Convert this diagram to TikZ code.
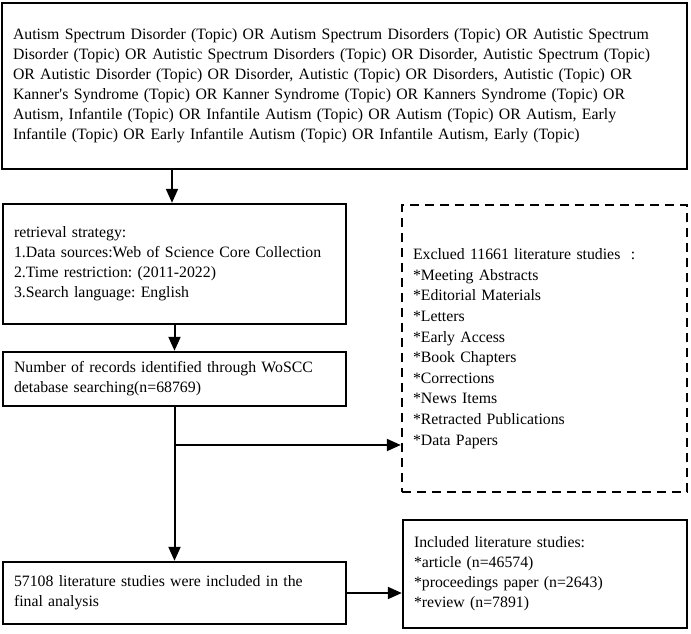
\documentclass[tikz,border=0pt]{standalone}
\usepackage{fontspec}
\setmainfont{Liberation Serif}
\usetikzlibrary{arrows.meta}
\frenchspacing
\begin{document}
\begin{tikzpicture}[x=1pt,y=-1pt,
    box/.style={draw,line width=2.4pt,inner xsep=11pt,align=left,
      font=\fontsize{15.8}{20}\selectfont},
    arr/.style={line width=2pt,-{Triangle[length=14pt,width=12pt]}}]
      \useasboundingbox (0,0) rectangle (691,634);
      \node[box,minimum width=683,minimum height=166,text width=663] (query) at (344.5,86)
        {Autism Spectrum Disorder (Topic) OR Autism Spectrum Disorders (Topic) OR Autistic Spectrum\\
         Disorder (Topic) OR Autistic Spectrum Disorders (Topic) OR Disorder, Autistic Spectrum (Topic)\\
         OR Autistic Disorder (Topic) OR Disorder, Autistic (Topic) OR Disorders, Autistic (Topic) OR\\
         Kanner\textquotesingle s Syndrome (Topic) OR Kanner Syndrome (Topic) OR Kanners Syndrome (Topic) OR\\
         Autism, Infantile (Topic) OR Infantile Autism (Topic) OR Autism (Topic) OR Autism, Early\\
         Infantile (Topic) OR Early Infantile Autism (Topic) OR Infantile Autism, Early (Topic)};
      \node[box,minimum width=341,minimum height=120,text width=321] (strategy) at (174.5,264)
        {retrieval strategy:\\
         1.Data sources:Web of Science Core Collection\\
         2.Time restriction: (2011-2022)\\
         3.Search language: English};
      \node[box,minimum width=341,minimum height=54,text width=321] (records) at (174.5,379)
        {Number of records identified through WoSCC\\
         detabase searching(n=68769)};
      % excluded record types
      \node[box,dashed,dash pattern=on 9pt off 6pt,minimum width=283,minimum height=287,text width=263,
        font=\fontsize{15.8}{20.6}\selectfont] (excluded) at (544.5,348.5)
        {Exclued 11661 literature studies\ \ :\\{}
         *Meeting Abstracts\\{}
         *Editorial Materials\\{}
         *Letters\\{}
         *Early Access\\{}
         *Book Chapters\\{}
         *Corrections\\{}
         *News Items\\{}
         *Retracted Publications\\{}
         *Data Papers};
      \node[box,minimum width=341,minimum height=62,text width=321] (final) at (174.5,593)
        {57108 literature studies were included in the\\
         final analysis};
      \node[box,minimum width=282,minimum height=108,text width=262] (included) at (545,574)
        {Included literature studies:\\{}
         *article (n=46574)\\{}
         *proceedings paper (n=2643)\\{}
         *review (n=7891)};
      \coordinate (split) at (records.south |- 0,445);
      \draw[arr] (query.south -| 172,0) -- (172,0 |- strategy.north);
      \draw[arr] (strategy) -- (records);
      \draw[arr] (records) -- (final);
      \draw[arr] (split) -- (split -| excluded.west);
      \draw[arr] (final) -- (included.west |- final);
    \end{tikzpicture}
\end{document}
